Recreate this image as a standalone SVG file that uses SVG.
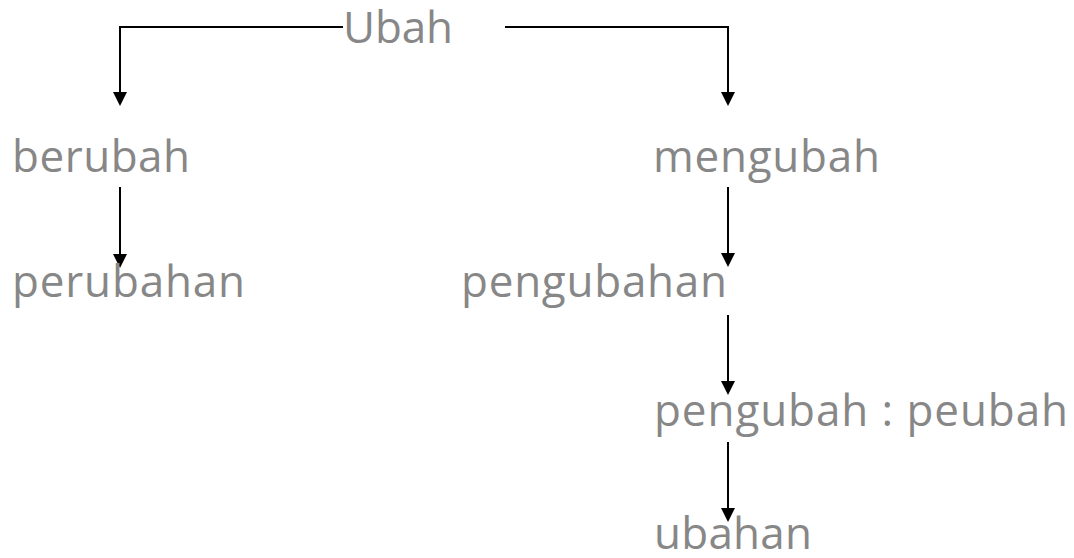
<svg xmlns="http://www.w3.org/2000/svg" width="1074" height="558" viewBox="0 0 1074 558">
  <style>
    .lbl { font-family: "Open Sans", "Noto Sans", sans-serif; font-size: 44px; fill: #878787; }
    .link { fill: none; stroke: #000; stroke-width: 2; }
  </style>
  <defs>
    <marker id="arrow" viewBox="0 0 14 14" refX="7" refY="14" markerWidth="14" markerHeight="14" markerUnits="userSpaceOnUse" orient="auto-start-reverse">
      <path d="M0,0 L14,0 L7,14 Z" fill="#000"/>
    </marker>
  </defs>
  <rect width="1074" height="558" fill="#fff"/>
  <g id="connectors">
    <path class="link" d="M343,27 H120 V92"/>
    <path d="M113,92 L127,92 L120,106 Z"/>
    <path class="link" d="M505,27 H728 V92"/>
    <path d="M721,92 L735,92 L728,106 Z"/>
    <path class="link" d="M120,187 V254"/>
    <path d="M113,254 L127,254 L120,268 Z"/>
    <path class="link" d="M728,187 V253"/>
    <path d="M721,253 L735,253 L728,267 Z"/>
    <path class="link" d="M728,315 V381"/>
    <path d="M721,381 L735,381 L728,395 Z"/>
    <path class="link" d="M728,442 V508"/>
    <path d="M721,508 L735,508 L728,522 Z"/>
  </g>
  <g id="node-ubah"><text class="lbl" x="343" y="43" textLength="110">Ubah</text></g>
  <g id="node-berubah"><text class="lbl" x="12" y="172" textLength="178">berubah</text></g>
  <g id="node-perubahan"><text class="lbl" x="12" y="297" textLength="233">perubahan</text></g>
  <g id="node-mengubah"><text class="lbl" x="653" y="172" textLength="227">mengubah</text></g>
  <g id="node-pengubahan"><text class="lbl" x="461" y="297" textLength="266">pengubahan</text></g>
  <g id="node-pengubah"><text class="lbl" x="654" y="426" textLength="414">pengubah : peubah</text></g>
  <g id="node-ubahan"><text class="lbl" x="654" y="549" textLength="158">ubahan</text></g>
</svg>
